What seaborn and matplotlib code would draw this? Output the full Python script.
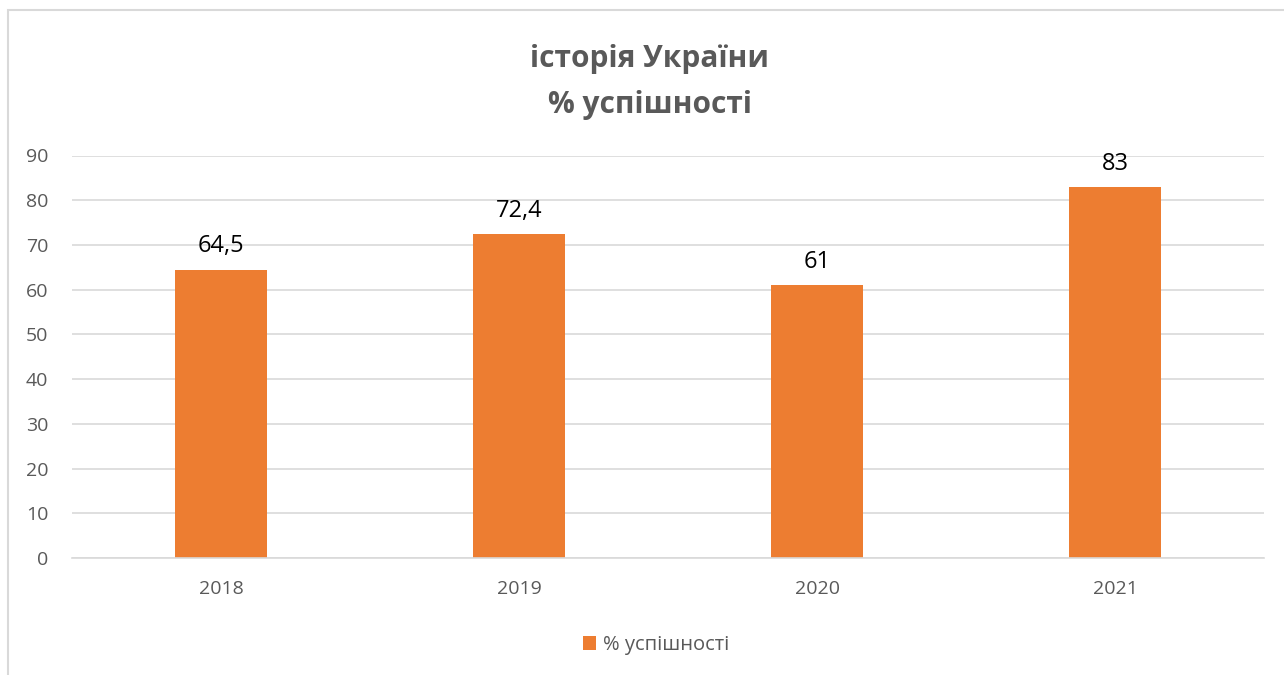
import matplotlib
matplotlib.use("Agg")
import matplotlib.pyplot as plt
import seaborn as sns
import pandas as pd
from matplotlib.patches import Rectangle

years = ["2018", "2019", "2020", "2021"]
values = [64.5, 72.4, 61, 83]
series_name = "% успішності"
title_lines = ["історія України", "% успішності"]
y_ticks = [0, 10, 20, 30, 40, 50, 60, 70, 80, 90]

sns.set_theme(style="white")
plt.rcParams["font.family"] = ["Open Sans", "DejaVu Sans"]

df = pd.DataFrame({"year": years, "value": values, "series": series_name})

W, H = 1284, 675
fig = plt.figure(figsize=(W / 100, H / 100), dpi=100)
ax = fig.add_axes([72 / W, 1 - 558 / H, (1264 - 72) / W, (558 - 155.5) / H])

orange = "#ED7D31"
sns.barplot(data=df, x="year", y="value", hue="series", palette=[orange],
            width=0.312, ax=ax, saturation=1, legend=True, linewidth=0)

ax.set_ylim(0, 90)
ax.set_xlim(-0.5, 3.5)
ax.set_yticks(y_ticks)
ax.yaxis.grid(True, color="#D9D9D9", linewidth=1.2)
ax.set_axisbelow(True)
for s in ["top", "right", "left"]:
    ax.spines[s].set_visible(False)
ax.spines["bottom"].set_color("#D9D9D9")
ax.spines["bottom"].set_linewidth(1.2)
ax.set_xlabel("")
ax.set_ylabel("")
ax.tick_params(axis="both", length=0, labelsize=14, colors="#595959")
ax.tick_params(axis="y", pad=17)
ax.tick_params(axis="x", pad=16)

labels = [("%g" % v).replace(".", ",") for v in values]
ax.bar_label(ax.containers[0], labels=labels, padding=8, fontsize=17, color="black")

fig.text(650 / W, 1 - 67 / H, title_lines[0], ha="center", va="baseline",
         fontsize=21.5, fontweight="bold", color="#595959")
fig.text(650 / W, 1 - 113 / H, title_lines[1], ha="center", va="baseline",
         fontsize=21.5, fontweight="bold", color="#595959")

handles, leg_labels = ax.get_legend_handles_labels()
ax.get_legend().remove()
leg = fig.legend(handles, leg_labels, loc="center", bbox_to_anchor=(656 / W, 1 - 645 / H),
                 frameon=False, fontsize=14.5, handlelength=0.65, handleheight=0.65,
                 handletextpad=0.35, borderaxespad=0)
for t in leg.get_texts():
    t.set_color("#595959")

fig.patches.append(Rectangle((8 / W, -0.1), 1.1, 1 - 10 / H + 0.1,
                             transform=fig.transFigure, fill=False,
                             edgecolor="#D9D9D9", linewidth=1.5))

fig.savefig("out.png", dpi=100)
